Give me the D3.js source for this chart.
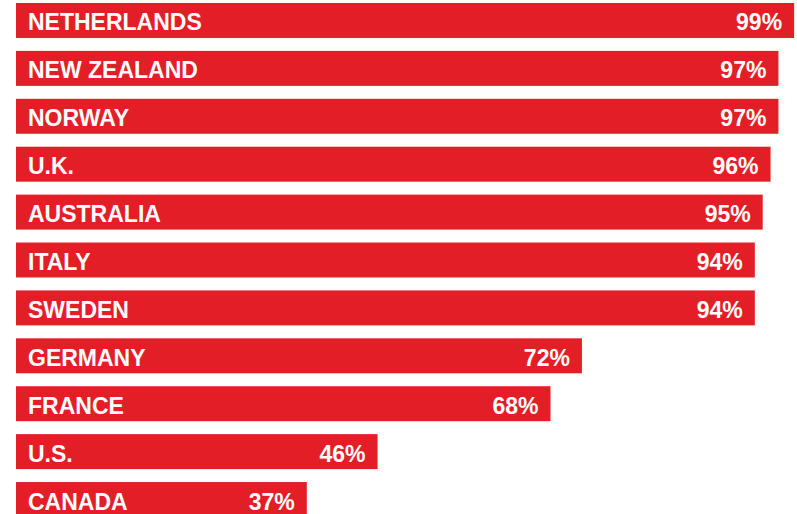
<!DOCTYPE html>
<html lang="en">
<head>
  <meta charset="utf-8">
  <title>Bar chart</title>
  <style>
    body { margin: 0; background: #fff; }
    #chart rect { fill: #e41e27; }
    #chart text {
      fill: #fff;
      font-family: "Liberation Sans", Arial, sans-serif;
      font-weight: bold;
      font-size: 23px;
    }
  </style>
</head>
<body>
  <div id="chart"></div>
  <script src="https://d3js.org/d3.v7.min.js"></script>
  <script>
    var countries = ["NETHERLANDS", "NEW ZEALAND", "NORWAY", "U.K.", "AUSTRALIA", "ITALY",
                     "SWEDEN", "GERMANY", "FRANCE", "U.S.", "CANADA"];
    var values = [99, 97, 97, 96, 95, 94, 94, 72, 68, 46, 37];

    var width = 797, height = 514;

    var x = d3.scaleLinear().domain([0, 100]).range([16, 802]);
    var y = d3.scaleBand()
              .domain(countries)
              .range([3, 517])
              .paddingInner(0.27)
              .paddingOuter(0);

    var svg = d3.select("#chart").append("svg")
                .attr("width", width)
                .attr("height", height);

    var row = svg.selectAll(".row")
        .data(countries)
        .enter().append("g")
        .attr("class", "row")
        .attr("transform", function(d) { return "translate(0," + y(d) + ")"; });

    row.append("rect")
        .attr("x", x(0))
        .attr("width", function(d, i) { return x(values[i]) - x(0); })
        .attr("height", y.bandwidth());

    row.append("text")
        .attr("x", x(0) + 12)
        .attr("y", y.bandwidth() / 2 + 10)
        .text(function(d) { return d; });

    row.append("text")
        .attr("x", function(d, i) { return x(values[i]) - 12; })
        .attr("y", y.bandwidth() / 2 + 10)
        .attr("text-anchor", "end")
        .text(function(d, i) { return values[i] + "%"; });
  </script>
</body>
</html>
